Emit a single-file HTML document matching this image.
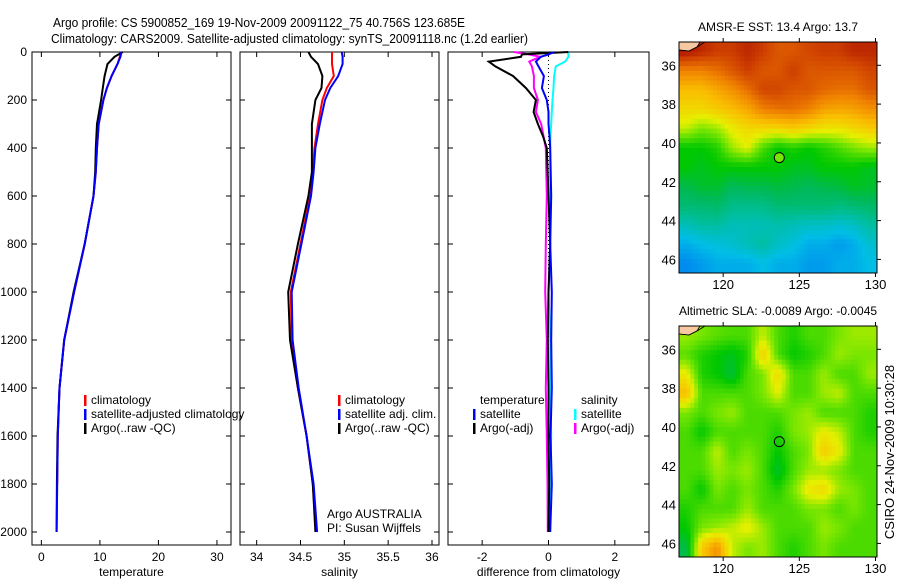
<!DOCTYPE html>
<html><head><meta charset="utf-8"><style>
body{margin:0;background:#fff;width:900px;height:580px;overflow:hidden}
svg{font-family:"Liberation Sans",sans-serif;font-size:12px}
</style></head><body>
<svg id="c" width="900" height="580" xmlns="http://www.w3.org/2000/svg">
<text x="53" y="27" textLength="412" lengthAdjust="spacingAndGlyphs" font-size="13">Argo profile: CS 5900852_169 19-Nov-2009 20091122_75 40.756S 123.685E</text>
<text x="51" y="43" textLength="477" lengthAdjust="spacingAndGlyphs" font-size="13">Climatology: CARS2009. Satellite-adjusted climatology: synTS_20091118.nc (1.2d earlier)</text>
</svg>
<script>
// ---- data ----
const depths = [0,20,50,100,150,200,300,400,500,600,800,1000,1200,1400,1600,1800,2000];
const tClim  = [13.6,13.4,13.0,12.0,11.2,10.6,9.8,9.5,9.3,8.9,7.4,5.6,3.9,3.1,2.8,2.7,2.6];
const tSat   = [13.7,13.5,13.0,12.0,11.2,10.6,9.8,9.5,9.3,8.9,7.4,5.6,3.9,3.1,2.8,2.7,2.6];
const tArgo  = [13.9,12.5,11.3,10.8,10.5,10.2,9.5,9.3,9.2,8.9,7.4,5.5,3.9,3.1,2.75,2.65,2.6];
const sClim  = [34.86,34.86,34.86,34.88,34.80,34.75,34.70,34.66,34.64,34.61,34.50,34.39,34.40,34.47,34.57,34.64,34.68];
const sSat   = [34.97,34.98,34.98,34.93,34.84,34.78,34.72,34.67,34.65,34.62,34.51,34.40,34.41,34.48,34.57,34.65,34.69];
const sArgo  = [34.59,34.62,34.70,34.75,34.74,34.67,34.63,34.63,34.63,34.59,34.47,34.36,34.38,34.47,34.57,34.64,34.67];
const dDepths = [0,10,20,40,60,100,150,200,250,300,350,400,600,800,1000,1200,1400,1600,1800,2000];
const dTsat  = [0.17,0.0,-0.23,-0.38,-0.3,-0.14,-0.2,-0.05,0.0,0.0,0.03,0.05,0.08,0.05,0.1,0.08,0.1,0.06,0.1,0.05];
const dTargo = [0.6,-0.8,-0.83,-1.8,-1.6,-1.07,-0.68,-0.38,-0.45,-0.32,-0.17,-0.05,0.0,0.05,0.0,-0.02,0.0,0.0,0.02,0.0];
const dSsat  = [0.58,0.6,0.6,0.5,0.22,0.17,0.15,0.12,0.1,0.08,0.06,0.05,0.05,0.05,0.0,0.05,0.05,0.08,0.04,0.05];
const dSargo = [-1.04,-0.6,-0.25,-0.58,-0.5,-0.44,-0.44,-0.32,-0.38,-0.22,-0.15,-0.08,-0.05,-0.08,-0.1,-0.05,-0.08,-0.05,-0.03,-0.02];
const depthTicks = [0,200,400,600,800,1000,1200,1400,1600,1800,2000];
const tTicks = [0,10,20,30];
const sTicks = [34,34.5,35,35.5,36];
const sTickLabels = ["34","34.5","35","35.5","36"];
const dTicks = [-2,0,2];
const latTicks = [36,38,40,42,44,46];
const lonTicks = [120,125,130];
const sstGrid = [
[0.92,0.9,0.88,0.88,0.9,0.88,0.85,0.85,0.87,0.88,0.88,0.9,0.9],
[0.8,0.8,0.82,0.85,0.88,0.85,0.85,0.88,0.85,0.85,0.85,0.85,0.87],
[0.72,0.72,0.75,0.78,0.82,0.87,0.87,0.85,0.85,0.83,0.82,0.82,0.85],
[0.68,0.68,0.7,0.72,0.75,0.8,0.82,0.82,0.8,0.76,0.75,0.76,0.78],
[0.62,0.58,0.6,0.65,0.68,0.68,0.68,0.7,0.68,0.66,0.66,0.68,0.7],
[0.5,0.5,0.52,0.6,0.64,0.55,0.5,0.52,0.5,0.52,0.55,0.58,0.6],
[0.5,0.48,0.5,0.5,0.5,0.5,0.5,0.48,0.48,0.5,0.5,0.5,0.48],
[0.45,0.47,0.47,0.44,0.45,0.45,0.46,0.45,0.44,0.45,0.46,0.48,0.47],
[0.42,0.42,0.43,0.4,0.4,0.4,0.42,0.42,0.42,0.42,0.41,0.42,0.43],
[0.36,0.38,0.38,0.36,0.36,0.36,0.37,0.36,0.35,0.35,0.34,0.35,0.38],
[0.3,0.32,0.33,0.34,0.36,0.38,0.35,0.33,0.3,0.3,0.28,0.3,0.34],
[0.26,0.28,0.3,0.3,0.3,0.32,0.3,0.3,0.28,0.28,0.3,0.3,0.32]];
const slaGrid = [
[0.6,0.58,0.56,0.55,0.55,0.62,0.55,0.52,0.55,0.55,0.58,0.6,0.6],
[0.56,0.52,0.5,0.48,0.52,0.7,0.55,0.5,0.52,0.55,0.6,0.58,0.58],
[0.65,0.52,0.5,0.46,0.55,0.58,0.68,0.55,0.55,0.6,0.55,0.55,0.6],
[0.72,0.55,0.55,0.55,0.55,0.58,0.64,0.55,0.55,0.6,0.62,0.55,0.55],
[0.58,0.55,0.58,0.6,0.55,0.55,0.55,0.58,0.6,0.55,0.55,0.55,0.52],
[0.55,0.5,0.55,0.55,0.55,0.55,0.52,0.58,0.6,0.65,0.62,0.55,0.52],
[0.55,0.55,0.62,0.55,0.58,0.55,0.5,0.55,0.58,0.7,0.65,0.55,0.55],
[0.55,0.55,0.6,0.58,0.6,0.55,0.47,0.55,0.6,0.6,0.58,0.55,0.55],
[0.55,0.5,0.58,0.55,0.58,0.55,0.52,0.58,0.66,0.68,0.6,0.58,0.55],
[0.52,0.55,0.55,0.55,0.6,0.55,0.55,0.55,0.58,0.58,0.55,0.58,0.55],
[0.5,0.58,0.6,0.62,0.65,0.6,0.55,0.55,0.55,0.6,0.58,0.55,0.55],
[0.45,0.7,0.78,0.62,0.58,0.6,0.55,0.52,0.55,0.58,0.55,0.55,0.55]];
const floatLon = 123.685, floatLat = 40.756;

// ---- drawing ----
const svg=document.getElementById('c');
const NS='http://www.w3.org/2000/svg';
function el(tag,attrs,parent){const e=document.createElementNS(NS,tag);for(const k in attrs)e.setAttribute(k,attrs[k]);(parent||svg).appendChild(e);return e;}
function txt(x,y,s,anchor,parent){const t=el('text',{x:x,y:y,'text-anchor':anchor||'start'},parent);t.textContent=s;return t;}

const yTop=52,yBot=545;
const yD=d=>yTop+d*0.24;
function panel(name,x0,x1,vmin,vmax,ticks,labels,title,leftLabels){
  const g=el('g',{});
  
  
  const sx=v=>x0+(v-vmin)/(vmax-vmin)*(x1-x0);
  const fr=el('rect',{x:x0,y:yTop,width:x1-x0,height:yBot-yTop,fill:'none',stroke:'#000','stroke-width':1},g);
  
  
  depthTicks.forEach(d=>{
    el('line',{x1:x0,x2:x0+5,y1:yD(d),y2:yD(d),stroke:'#000'},g);
    el('line',{x1:x1-5,x2:x1,y1:yD(d),y2:yD(d),stroke:'#000'},g);
    if(leftLabels){const t=txt(x0-5,yD(d)+4,String(d),'end',g);
      
      }
  });
  ticks.forEach((v,i)=>{
    el('line',{x1:sx(v),x2:sx(v),y1:yBot,y2:yBot-5,stroke:'#000'},g);
    el('line',{x1:sx(v),x2:sx(v),y1:yTop,y2:yTop+5,stroke:'#000'},g);
    const t=txt(sx(v),561,labels[i],'middle',g);
    
    
  });
  const at=txt((x0+x1)/2,576,title,'middle',g);
  
  
  return {g,sx};
}
function line(p,vals,ds,color,name,maxD){
  let pts=[];
  vals.forEach((v,i)=>{if(maxD===undefined||ds[i]<=maxD)pts.push(p.sx(v).toFixed(1)+','+yD(ds[i]).toFixed(1));});
  const l=el('polyline',{points:pts.join(' '),fill:'none',stroke:color,'stroke-width':2},p.g);
  
  
}
function legend(g,x,y,items){
  items.forEach((it,i)=>{
    if(it[0]) el('rect',{x:x,y:y+i*14-9,width:2.5,height:11,fill:it[0]},g);
    const t=txt(x+7,y+i*14,it[1],'start',g);
    
    
  });
}
const p1=panel('temperature-panel',32,231,-1.6,32.4,tTicks,tTicks.map(String),'temperature',true);
line(p1,tClim,depths,'#f00','temperature-climatology-line',1870);
line(p1,tArgo,depths,'#000','temperature-argo-line');
line(p1,tSat,depths,'#00f','temperature-satellite-line');
legend(p1.g,84,404,[['#f00','climatology'],['#00f','satellite-adjusted climatology'],['#000','Argo(..raw -QC)']]);
const p2=panel('salinity-panel',240,439,33.81,36.08,sTicks,sTickLabels,'salinity',false);
line(p2,sClim,depths,'#f00','salinity-climatology-line');
line(p2,sArgo,depths,'#000','salinity-argo-line');
line(p2,sSat,depths,'#00f','salinity-satellite-line');
legend(p2.g,338,404,[['#f00','climatology'],['#00f','satellite adj. clim.'],['#000','Argo(..raw -QC)']]);
const a1=txt(327,518,'Argo AUSTRALIA','start',p2.g);
const a2=txt(327,532,'PI: Susan Wijffels','start',p2.g);
const p3=panel('difference-panel',448,649,-3.03,3.03,dTicks,dTicks.map(String),'difference from climatology',false);
el('line',{x1:p3.sx(0),x2:p3.sx(0),y1:yTop,y2:yD(2000),stroke:'#000','stroke-dasharray':'1,3'},p3.g);
line(p3,dSargo,dDepths,'#f0f','salinity-argo-diff-line');
line(p3,dSsat,dDepths,'#0ff','salinity-satellite-diff-line');
line(p3,dTargo,dDepths,'#000','temperature-argo-diff-line');
line(p3,dTsat,dDepths,'#00f','temperature-satellite-diff-line');
legend(p3.g,473,404,[[null,'temperature'],['#00f','satellite'],['#000','Argo(-adj)']]);
legend(p3.g,574,404,[[null,'salinity'],['#0ff','satellite'],['#f0f','Argo(-adj)']]);

// colormap
const cmStops=[[0.15,0,50,200],[0.25,0,130,240],[0.32,0,190,230],[0.38,0,190,160],[0.44,0,185,90],[0.5,0,200,0],[0.58,120,230,0],[0.64,230,240,0],[0.72,250,190,0],[0.8,240,130,0],[0.87,210,70,0],[0.94,160,0,0]];
function cmap(v){
  if(v<=cmStops[0][0])return `rgb(${cmStops[0][1]},${cmStops[0][2]},${cmStops[0][3]})`;
  for(let i=1;i<cmStops.length;i++){
    if(v<=cmStops[i][0]){const a=cmStops[i-1],b=cmStops[i],t=(v-a[0])/(b[0]-a[0]);
      return `rgb(${Math.round(a[1]+t*(b[1]-a[1]))},${Math.round(a[2]+t*(b[2]-a[2]))},${Math.round(a[3]+t*(b[3]-a[3]))})`;}
  }
  const l=cmStops[cmStops.length-1];return `rgb(${l[1]},${l[2]},${l[3]})`;
}
function sample(grid,fr,fc){
  const nr=grid.length,nc=grid[0].length;
  let r=Math.max(0,Math.min(nr-1,fr-0.5)),c=Math.max(0,Math.min(nc-1,fc-0.5));
  const r0=Math.floor(r),c0=Math.floor(c),r1=Math.min(nr-1,r0+1),c1=Math.min(nc-1,c0+1),tr=r-r0,tc=c-c0;
  return (grid[r0][c0]*(1-tc)+grid[r0][c1]*tc)*(1-tr)+(grid[r1][c0]*(1-tc)+grid[r1][c1]*tc)*tr;
}
function map(name,yT,yB,grid,title,markFill){
  const g=el('g',{});
  
  
  const x0=679,x1=877,lon0=117.1,lon1=130.1,lat0=34.8,lat1=46.7;
  const sx=l=>x0+(l-lon0)/(lon1-lon0)*(x1-x0);
  const sy=l=>yT+(l-lat0)/(lat1-lat0)*(yB-yT);
  const nr=grid.length,nc=grid[0].length,sub=4;
  const cw=(x1-x0)/(nc*sub),ch=(yB-yT)/(nr*sub);
  for(let r=0;r<nr*sub;r++)for(let c=0;c<nc*sub;c++){
    const v=sample(grid,(r+0.5)/sub,(c+0.5)/sub);
    const cell=el('rect',{x:(x0+c*cw).toFixed(2),y:(yT+r*ch).toFixed(2),width:(cw+0.5).toFixed(2),height:(ch+0.5).toFixed(2),fill:cmap(v)},g);
    
    
  }
  el('path',{d:`M${x0},${yT} L${x0+21},${yT} L${x0+18},${yT+5} L${x0+10},${yT+9} L${x0},${yT+8} Z`,fill:'#f6c9a0',stroke:'#000','stroke-width':0.8},g);
  el('path',{d:`M${x0},${yT+8} L${x0+10},${yT+9} L${x0+18},${yT+5} L${x0+26},${yT}`,fill:'none',stroke:'#000','stroke-width':0.8},g);
  el('rect',{x:x0,y:yT,width:x1-x0,height:yB-yT,fill:'none',stroke:'#000'},g);
  latTicks.forEach(l=>{
    el('line',{x1:x1,x2:x1+4,y1:sy(l),y2:sy(l),stroke:'#000'},g);
    const t=txt(x0-3,sy(l)+5,String(l),'end',g);
    t.setAttribute('font-size','13');
    
    
  });
  lonTicks.forEach(l=>{
    el('line',{x1:sx(l),x2:sx(l),y1:yB,y2:yB+4,stroke:'#000'},g);
    el('line',{x1:sx(l),x2:sx(l),y1:yT,y2:yT-4,stroke:'#000'},g);
    const t=txt(sx(l),yB+16,String(l),'middle',g);
    t.setAttribute('font-size','13');
    
    
  });
  const tt=txt((x0+x1)/2,yT-11,title,'middle',g);
  
  
  const m=el('circle',{cx:sx(floatLon),cy:sy(floatLat),r:5,fill:markFill,stroke:'#000'},g);
  
  
}
map('sst-map',42,273,sstGrid,'AMSR-E SST: 13.4 Argo: 13.7',cmap(0.58));
map('sla-map',326,557,slaGrid,'Altimetric SLA: -0.0089 Argo: -0.0045','none');
const cs=txt(0,0,'CSIRO 24-Nov-2009 10:30:28','middle');
cs.setAttribute('transform','translate(894,452) rotate(-90)');
cs.setAttribute('font-size','13');


</script>
</body></html>
